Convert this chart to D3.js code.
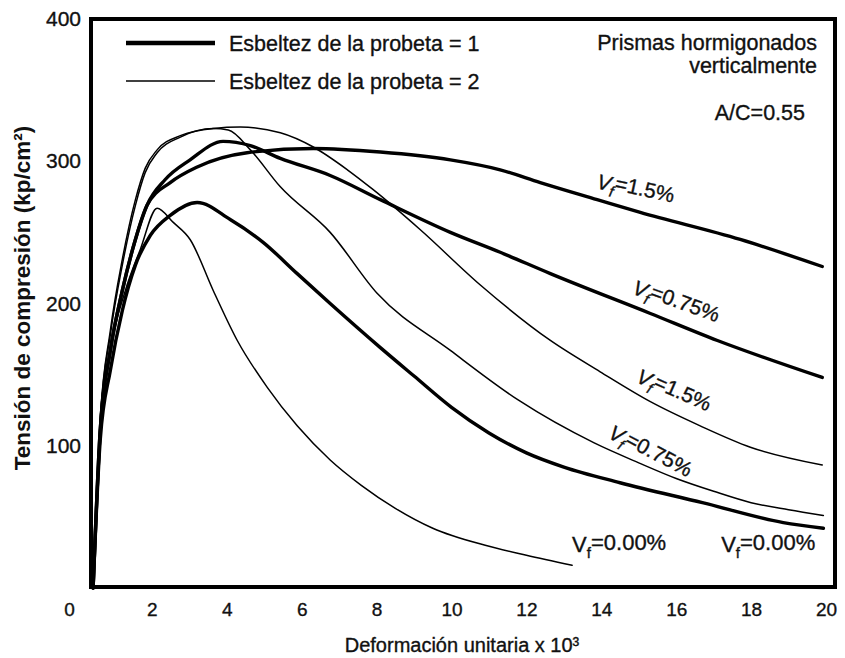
<!DOCTYPE html>
<html>
<head>
<meta charset="utf-8">
<script src="https://cdn.jsdelivr.net/npm/d3@7"></script>
<style>
  body { margin: 0; background: #fff; }
  text { font-family: "Liberation Sans", Arial, sans-serif; fill: #111; stroke: #111; stroke-width: 0.35px; }
</style>
</head>
<body>
<svg id="chart"></svg>
<script>
// strain (x 10^3) and stress (kp/cm2), one pair per curve
const strainThick0 = [0.43, 0.62, 0.89, 1.21, 1.56, 1.96, 2.49, 3.21, 4.09, 4.97, 5.88, 6.76, 8.1, 9, 10, 11, 12, 13, 14.5, 16.7, 18.86, 19.93];
const stressThick0 = [0, 104, 153, 195, 227, 248, 262, 271, 259, 243, 221, 200, 169, 149, 127, 109, 95, 85, 74, 60, 46, 42];

const strainThick075 = [0.43, 0.62, 0.89, 1.21, 1.56, 1.87, 2.35, 3.02, 3.9, 4.63, 5.43, 6.76, 8.1, 9.97, 11.3, 12.64, 15.31, 17.1, 19.9];
const stressThick075 = [0, 111, 167, 209, 245, 269, 287, 301, 314, 311, 302, 290, 273, 250, 236, 221, 193, 174, 148];

const strainThick15 = [0.43, 0.62, 0.89, 1.21, 1.56, 1.87, 2.49, 3.21, 4.54, 6.31, 8.1, 9.97, 11.3, 12.37, 13.89, 15.04, 17.71, 19.9];
const stressThick15 = [0, 111, 167, 209, 245, 269, 285, 296, 306, 309, 306.5, 301, 294, 285, 273, 264, 245, 226];

const strainThin0 = [0.43, 0.62, 0.89, 1.29, 1.69, 2.14, 2.57, 3.02, 3.64, 4.28, 5.08, 5.88, 6.76, 7.6, 8.5, 9.5, 10.9, 12, 13.22];
const stressThin0 = [0, 111, 167, 209, 238, 267, 257, 245, 209, 174, 141, 114, 90, 72, 56, 42, 30, 23, 16];

const strainThin075 = [0.43, 0.62, 0.89, 1.21, 1.56, 1.82, 2.14, 2.76, 3.64, 4.04, 4.63, 5.43, 6.76, 8.02, 9.97, 11.79, 13.81, 15, 16, 17, 18, 19, 19.93];
const stressThin075 = [0, 118, 178, 227, 269, 292, 306, 317, 323, 322, 308, 282, 250, 207, 167, 132, 102, 88, 77, 68, 60, 55, 51];

const strainThin15 = [0.43, 0.62, 0.89, 1.21, 1.56, 1.82, 2.14, 2.76, 3.64, 4.36, 5.43, 6.31, 7.22, 7.91, 9.16, 10.77, 12.64, 13.97, 15.31, 16.64, 17.98, 19.9];
const stressThin15 = [0, 118, 181, 231, 273, 295, 308, 318, 323, 324, 320, 310, 294, 280, 252, 213, 174, 152, 131, 114, 99, 86.5];

const xTicks = [0, 2, 4, 6, 8, 10, 12, 14, 16, 18, 20];
const yTicks = [100, 200, 300, 400];

const legendLabels = ["Esbeltez de la probeta = 1", "Esbeltez de la probeta = 2"];
const noteLines = ["Prismas hormigonados", "verticalmente"];
const noteRatio = "A/C=0.55";

// curve labels: anchor in data units, rotation in degrees
const curveLabels = [
  { value: "=1.5%",  x: 13.85, y: 281, angle: 12, size: 21 },
  { value: "=0.75%", x: 14.8,  y: 207, angle: 20, size: 21 },
  { value: "=1.5%",  x: 14.9,  y: 145, angle: 24, size: 21 },
  { value: "=0.75%", x: 14.15, y: 106, angle: 28, size: 21 },
  { value: "=0.00%", x: 13.22, y: 25,  angle: 0,  size: 22 },
  { value: "=0.00%", x: 17.2,  y: 25,  angle: 0,  size: 22 }
];

const series = [
  { xs: strainThick0,   ys: stressThick0,   w: 3.4 },
  { xs: strainThick075, ys: stressThick075, w: 3.4 },
  { xs: strainThick15,  ys: stressThick15,  w: 3.4 },
  { xs: strainThin0,    ys: stressThin0,    w: 1.5 },
  { xs: strainThin075,  ys: stressThin075,  w: 1.5 },
  { xs: strainThin15,   ys: stressThin15,   w: 1.5 }
];

const width = 845, height = 658;
const box = { left: 91, top: 19, right: 835, bottom: 587 };

const svg = d3.select("#chart")
  .attr("width", width)
  .attr("height", height);

const x = d3.scaleLinear().domain([0, 20]).range([77, 826]);
const y = d3.scaleLinear().domain([0, 400]).range([588, 19]);

const line = d3.line()
  .x(d => x(d[0]))
  .y(d => y(d[1]))
  .curve(d3.curveMonotoneX);

svg.append("g")
  .selectAll("path")
  .data(series)
  .join("path")
  .attr("d", s => line(s.xs.map((v, i) => [v, s.ys[i]])))
  .attr("fill", "none")
  .attr("stroke", "#000")
  .attr("stroke-width", s => s.w)
  .attr("stroke-linejoin", "round")
  .attr("stroke-linecap", "round");

// frame
svg.append("rect")
  .attr("x", box.left)
  .attr("y", box.top)
  .attr("width", box.right - box.left)
  .attr("height", box.bottom - box.top)
  .attr("fill", "none")
  .attr("stroke", "#000")
  .attr("stroke-width", 4);

// axes
const gx = svg.append("g")
  .attr("transform", "translate(0,602)")
  .call(d3.axisBottom(x).tickValues(xTicks).tickSize(0).tickPadding(0));
gx.select(".domain").remove();
gx.selectAll("text")
  .attr("font-size", 19)
  .attr("fill", "#111")
  .attr("dx", d => d === 0 ? -8 : 0);   // the "0" sits left of the tick in the original

const gy = svg.append("g")
  .attr("transform", "translate(81,0)")
  .call(d3.axisLeft(y).tickValues(yTicks).tickSize(0).tickPadding(0));
gy.select(".domain").remove();
gy.selectAll("text").attr("font-size", 21).attr("fill", "#111");

svg.append("text")
  .attr("x", 462)
  .attr("y", 652)
  .attr("text-anchor", "middle")
  .attr("font-size", 20)
  .text("Deformación unitaria x 10³");

svg.append("text")
  .attr("transform", "translate(30,298) rotate(-90)")
  .attr("text-anchor", "middle")
  .attr("font-size", 22.5)
  .attr("font-weight", "bold")
  .style("stroke-width", 0)
  .text("Tensión de compresión (kp/cm²)");

// legend
const legend = svg.append("g");
legendLabels.forEach((t, i) => {
  const ly = i === 0 ? 43 : 81;
  legend.append("line")
    .attr("x1", 126).attr("x2", 215)
    .attr("y1", ly).attr("y2", ly)
    .attr("stroke", "#000")
    .attr("stroke-width", i === 0 ? 4.5 : 1.5);
  legend.append("text")
    .attr("x", 229)
    .attr("y", ly + 8)
    .attr("font-size", 21.5)
    .text(t);
});

// notes top right
noteLines.forEach((t, i) => {
  svg.append("text")
    .attr("x", 817)
    .attr("y", 50 + i * 23)
    .attr("text-anchor", "end")
    .attr("font-size", 21.5)
    .text(t);
});
svg.append("text")
  .attr("x", 805)
  .attr("y", 120)
  .attr("text-anchor", "end")
  .attr("font-size", 21.5)
  .text(noteRatio);

// curve labels
const lab = svg.append("g")
  .selectAll("text")
  .data(curveLabels)
  .join("text")
  .attr("transform", d => `translate(${x(d.x)},${y(d.y)}) rotate(${d.angle})`)
  .attr("font-size", d => d.size);
lab.append("tspan").attr("font-style", d => d.angle ? "italic" : null).text("V");
lab.append("tspan").attr("font-style", d => d.angle ? "italic" : null)
  .attr("font-size", 15).attr("dy", "0.35em").text("f");
lab.append("tspan").attr("dy", "-0.35em").text(d => d.value);
</script>
</body>
</html>
